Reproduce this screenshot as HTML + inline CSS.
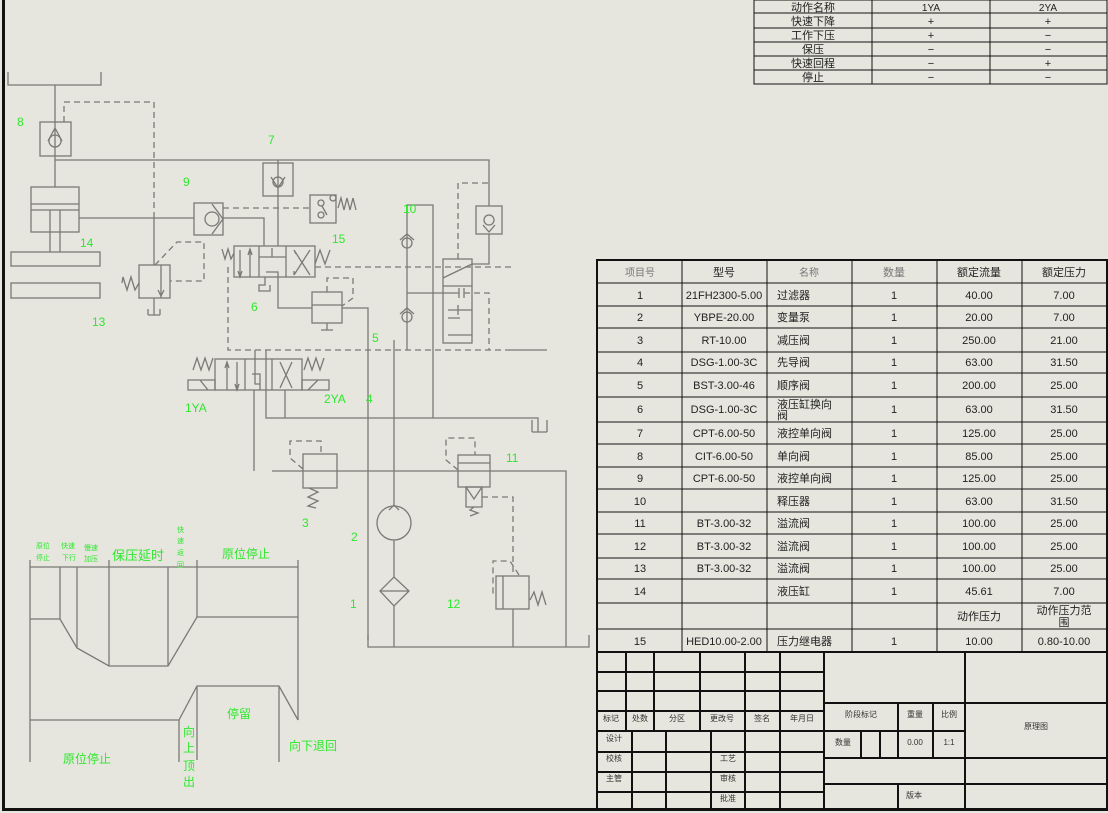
<!DOCTYPE html>
<html><head><meta charset="utf-8"><style>
html,body{margin:0;padding:0;background:#e6e6de;}
svg{display:block;font-family:"Liberation Sans","Noto Sans CJK SC",sans-serif;}
.l{stroke:#7a7a76;stroke-width:1.3;fill:none}
.d{stroke:#7a7a76;stroke-width:1.3;fill:none;stroke-dasharray:6,4}
.g{fill:#2ee82e;font-size:12px}
.t{stroke:#111;stroke-width:1;fill:none}
.tb{stroke:#111;stroke-width:2;fill:none}
.tx{font-size:11px;fill:#222;text-anchor:middle}
.sx{font-size:8px;fill:#333;text-anchor:middle}
</style></head><body>
<svg width="1108" height="813" viewBox="0 0 1108 813" xmlns="http://www.w3.org/2000/svg">
<rect width="1108" height="813" fill="#e6e6de"/>
<rect x="2" y="0" width="3" height="811" fill="#111"/>
<rect x="2" y="808" width="1106" height="3" fill="#111"/>

<!-- top table -->
<g>
<rect x="754" y="0" width="353" height="84" class="t"/>
<path class="t" d="M872 0V84M990 0V84M754 13H1107M754 28H1107M754 42H1107M754 56H1107M754 70H1107"/>
<g class="tx">
<text x="813" y="11">动作名称</text><text x="931" y="11" font-size="10">1YA</text><text x="1048" y="11" font-size="10">2YA</text>
<text x="813" y="25">快速下降</text><text x="931" y="25">+</text><text x="1048" y="25">+</text>
<text x="813" y="39">工作下压</text><text x="931" y="39">+</text><text x="1048" y="39">−</text>
<text x="813" y="53">保压</text><text x="931" y="53">−</text><text x="1048" y="53">−</text>
<text x="813" y="67">快速回程</text><text x="931" y="67">−</text><text x="1048" y="67">+</text>
<text x="813" y="81">停止</text><text x="931" y="81">−</text><text x="1048" y="81">−</text>
</g></g>

<!-- hydraulic diagram -->
<g>
<path class="l" d="M8 72V85H101V72M55 85V122"/>
<rect class="l" x="40" y="122" width="31" height="34"/>
<circle class="l" cx="55" cy="141" r="6"/><path class="l" d="M48 141L55 128L62 141M55 122V156"/>
<path class="l" d="M55 156V187M55 160H489V206"/>
<path class="d" d="M64 122V102H154V218"/>
<rect class="l" x="31" y="187" width="48" height="45"/>
<path class="l" d="M31 204H79M31 210H79M50 210V252M60 210V252M79 218H194"/>
<rect class="l" x="11" y="252" width="89" height="14"/>
<rect class="l" x="11" y="283" width="89" height="15"/>
<path class="l" d="M154 218V265"/>
<rect class="l" x="139" y="265" width="31" height="33"/>
<path class="l" d="M161 265V298M158 290L161 296L164 290"/>
<path class="l" d="M139 283L135 290L131 277L127 290L123 277L122 283"/>
<path class="l" d="M154 298V315M148 315H160M148 309V315M160 309V315"/>
<path class="d" d="M155 265L177 242H204V281H170"/>
<rect class="l" x="194" y="203" width="29" height="32"/>
<circle class="l" cx="212" cy="219" r="7"/><path class="l" d="M212 204L223 219L212 234"/>
<path class="l" d="M223 218H264V246"/>
<path class="d" d="M223 208H310"/>
<rect class="l" x="310" y="195" width="26" height="28"/>
<circle class="l" cx="321" cy="203" r="3"/><circle class="l" cx="333" cy="198" r="3"/><circle class="l" cx="321" cy="215" r="3"/>
<path class="l" d="M322 206L327 215M338 208L341 198L344 210L347 198L350 210L353 198L356 210"/>
<rect class="l" x="263" y="163" width="30" height="33"/>
<circle class="l" cx="278" cy="182" r="5"/><path class="l" d="M271 177L278 188L285 177M278 160V246"/>
<rect class="l" x="234" y="246" width="81" height="31"/>
<path class="l" d="M259 246V277M286 246V277M250 250V277M240 250V277M252 255L250 249L248 255M238 271L240 277L242 271"/>
<path class="l" d="M259 257H286M272 248V257M294 250L310 275M310 250L294 275M296 254L294 250M294 271L294 275"/>
<path class="l" d="M222 249L225 259L228 249L231 259L234 253M315 264L320 250L325 264L330 250"/>
<path class="l" d="M265 277V285H259V291H270V285M266 272H278V308H312"/>
<path class="d" d="M315 267H511M228 267V350H510"/>
<rect class="l" x="312" y="292" width="30" height="31"/>
<path class="l" d="M312 305H342M342 308H368V640M327 323V330H321M327 330H333"/>
<path class="d" d="M327 292V278H353V298L342 306"/>
<path class="l" d="M407 350V205H433V418"/>
<circle class="l" cx="407" cy="243" r="5"/><path class="l" d="M400 240L407 234L414 240"/>
<circle class="l" cx="407" cy="317" r="5"/><path class="l" d="M400 314L407 308L414 314"/>
<path class="l" d="M407 293H459M459 288V298M464 288V298"/>
<rect class="l" x="443" y="259" width="29" height="84"/>
<path class="l" d="M443 286H472M443 278L472 264M448 310H472M458 305V315M448 318H460M448 335H472"/>
<path class="d" d="M464 293H489V350M458 259V183H489"/>
<rect class="l" x="476" y="206" width="26" height="28"/>
<circle class="l" cx="489" cy="220" r="5"/><path class="l" d="M483 225L489 232L495 225M489 234V264H472"/>
<path class="l" d="M510 350H547"/>
<rect class="l" x="215" y="359" width="87" height="31"/>
<path class="l" d="M245 359V390M272 359V390M227 362V390M237 362V390M225 368L227 362L229 368M235 384L237 390L239 384M252 374H260V390M280 362L292 388M292 362L280 388"/>
<path class="l" d="M188 380H215V390H188ZM302 380H329V390H302ZM200 380L208 390M308 390L318 380M193 370L197 358L201 370L205 358L209 370L213 358M304 370L308 358L312 370L316 358L320 370L324 358"/>
<path class="l" d="M255 350V384H260M266 350V418H538V432M532 432H547M532 420V432M547 420V432"/>
<path class="l" d="M254 390V471M285 390V418"/>
<path class="l" d="M394 340V506M272 471H566V647"/>
<circle class="l" cx="394" cy="523" r="17"/><path class="l" d="M389 510L394 505L399 510"/>
<path class="l" d="M394 540V577M394 606V647M380 591L394 577L409 591L394 606Z M380 591H409"/>
<path class="l" d="M368 635V647H589V635"/>
<rect class="l" x="303" y="454" width="34" height="34"/>
<path class="l" d="M309 488L318 492L308 497L318 501L308 506L316 508"/>
<path class="d" d="M303 469L290 458V441H321V454"/>
<rect class="l" x="458" y="455" width="32" height="32"/><path class="l" d="M458 463H490"/>
<rect class="l" x="466" y="487" width="16" height="20"/><path class="l" d="M466 487L474 499L482 487M474 507L470 510L478 513L470 516"/>
<path class="d" d="M458 470L446 460V438H475V455M482 497H513V575M519 575L510 561H493V593H496"/>
<rect class="l" x="496" y="576" width="33" height="33"/><path class="l" d="M503 576V609M513 609V647M530 600L534 592L538 605L542 592L546 605"/>
</g>

<g class="g">
<text x="17" y="126">8</text><text x="268" y="144">7</text><text x="183" y="186">9</text>
<text x="403" y="213">10</text><text x="80" y="247">14</text><text x="332" y="243">15</text>
<text x="251" y="311">6</text><text x="92" y="326">13</text><text x="372" y="342">5</text>
<text x="185" y="412">1YA</text><text x="324" y="403">2YA</text><text x="366" y="403">4</text>
<text x="506" y="462">11</text><text x="302" y="527">3</text><text x="351" y="541">2</text>
<text x="350" y="608">1</text><text x="447" y="608">12</text>
</g>

<g>
<path class="l" d="M30 567H298M30 560V762M60 567V619M77 567V648M109 560V666M168 567V666M197 560V617M298 560V720"/>
<path class="l" d="M30 619H60L77 648L109 666H168L197 617H298"/>
<path class="l" d="M30 720H179L197 686H279L298 720M179 720V762M197 686V760M279 686V762"/>
<g fill="#2ee82e">
<text x="36" y="548" font-size="7">原位</text><text x="36" y="560" font-size="7">停止</text>
<text x="61" y="548" font-size="7">快速</text><text x="62" y="560" font-size="7">下行</text>
<text x="84" y="550" font-size="7">慢速</text><text x="84" y="561" font-size="7">加压</text>
<text x="112" y="560" font-size="13">保压延时</text>
<text x="177" y="532" font-size="7">快</text><text x="177" y="543" font-size="7">速</text><text x="177" y="555" font-size="7">返</text><text x="177" y="567" font-size="7">回</text>
<text x="222" y="558" font-size="12">原位停止</text>
<text x="227" y="718" font-size="12">停留</text>
<text x="63" y="763" font-size="12">原位停止</text>
<text x="183" y="736" font-size="12">向</text><text x="183" y="752" font-size="12">上</text><text x="183" y="770" font-size="12">顶</text><text x="183" y="786" font-size="12">出</text>
<text x="289" y="750" font-size="12">向下退回</text>
</g></g>

<g>
<rect x="597" y="260" width="510" height="392" class="tb"/>
<path class="t" stroke-width="1.5" d="M682 260V652M767 260V652M852 260V652M937 260V652M1022 260V652
M597 283H1107M597 306H1107M597 328H1107M597 352H1107M597 373H1107M597 397H1107M597 422H1107M597 444H1107M597 467H1107M597 489H1107M597 512H1107M597 534H1107M597 558H1107M597 579H1107M597 603H1107M597 629H1107"/>
<g class="tx">
<text x="640" y="276" font-size="10" fill="#777">项目号</text><text x="724" y="276">型号</text><text x="809" y="276" font-size="10" fill="#777">名称</text><text x="894" y="276" fill="#777">数量</text><text x="979" y="276">额定流量</text><text x="1064" y="276">额定压力</text>
</g>
<g class="tx" font-size="10.5">
<text x="640" y="299">1</text><text x="724" y="299">21FH2300-5.00</text><text x="894" y="299">1</text><text x="979" y="299">40.00</text><text x="1064" y="299">7.00</text>
<text x="640" y="321">2</text><text x="724" y="321">YBPE-20.00</text><text x="894" y="321">1</text><text x="979" y="321">20.00</text><text x="1064" y="321">7.00</text>
<text x="640" y="344">3</text><text x="724" y="344">RT-10.00</text><text x="894" y="344">1</text><text x="979" y="344">250.00</text><text x="1064" y="344">21.00</text>
<text x="640" y="366">4</text><text x="724" y="366">DSG-1.00-3C</text><text x="894" y="366">1</text><text x="979" y="366">63.00</text><text x="1064" y="366">31.50</text>
<text x="640" y="389">5</text><text x="724" y="389">BST-3.00-46</text><text x="894" y="389">1</text><text x="979" y="389">200.00</text><text x="1064" y="389">25.00</text>
<text x="640" y="413">6</text><text x="724" y="413">DSG-1.00-3C</text><text x="894" y="413">1</text><text x="979" y="413">63.00</text><text x="1064" y="413">31.50</text>
<text x="640" y="437">7</text><text x="724" y="437">CPT-6.00-50</text><text x="894" y="437">1</text><text x="979" y="437">125.00</text><text x="1064" y="437">25.00</text>
<text x="640" y="460">8</text><text x="724" y="460">CIT-6.00-50</text><text x="894" y="460">1</text><text x="979" y="460">85.00</text><text x="1064" y="460">25.00</text>
<text x="640" y="482">9</text><text x="724" y="482">CPT-6.00-50</text><text x="894" y="482">1</text><text x="979" y="482">125.00</text><text x="1064" y="482">25.00</text>
<text x="640" y="505">10</text><text x="894" y="505">1</text><text x="979" y="505">63.00</text><text x="1064" y="505">31.50</text>
<text x="640" y="527">11</text><text x="724" y="527">BT-3.00-32</text><text x="894" y="527">1</text><text x="979" y="527">100.00</text><text x="1064" y="527">25.00</text>
<text x="640" y="550">12</text><text x="724" y="550">BT-3.00-32</text><text x="894" y="550">1</text><text x="979" y="550">100.00</text><text x="1064" y="550">25.00</text>
<text x="640" y="572">13</text><text x="724" y="572">BT-3.00-32</text><text x="894" y="572">1</text><text x="979" y="572">100.00</text><text x="1064" y="572">25.00</text>
<text x="640" y="595">14</text><text x="894" y="595">1</text><text x="979" y="595">45.61</text><text x="1064" y="595">7.00</text>
<text x="640" y="645">15</text><text x="724" y="645">HED10.00-2.00</text><text x="894" y="645">1</text><text x="979" y="645">10.00</text><text x="1064" y="645">0.80-10.00</text>
</g>
<g font-size="11" fill="#222">
<text x="777" y="299">过滤器</text><text x="777" y="321">变量泵</text><text x="777" y="344">减压阀</text><text x="777" y="366">先导阀</text><text x="777" y="389">顺序阀</text>
<text x="777" y="408">液压缸换向</text><text x="777" y="419">阀</text>
<text x="777" y="437">液控单向阀</text><text x="777" y="460">单向阀</text><text x="777" y="482">液控单向阀</text><text x="777" y="505">释压器</text>
<text x="777" y="527">溢流阀</text><text x="777" y="550">溢流阀</text><text x="777" y="572">溢流阀</text><text x="777" y="595">液压缸</text><text x="777" y="645">压力继电器</text>
</g>
<g class="tx"><text x="979" y="620">动作压力</text><text x="1064" y="614">动作压力范</text><text x="1064" y="626">围</text></g>
</g>

<g>
<rect x="597" y="652" width="510" height="158" class="tb"/>
<path class="tb" d="M626 652V731M654 652V731M700 652V731M745 652V810M780 652V810M824 652V810M965 652V810
M597 672H824M597 691H824M597 711H824M597 731H824M597 752H824M597 772H824M597 792H824
M632 731V810M666 731V810M711 731V810
M824 703H1107M824 731H965M898 703V758M933 703V758M861 731V758M880 731V758M824 758H1107M824 784H1107M898 784V810"/>
<g class="sx">
<text x="611" y="721">标记</text><text x="640" y="721">处数</text><text x="677" y="721">分区</text><text x="722" y="721">更改号</text><text x="762" y="721">签名</text><text x="802" y="721">年月日</text>
<text x="861" y="717">阶段标记</text><text x="915" y="717">重量</text><text x="949" y="717">比例</text>
<text x="1036" y="729">原理图</text>
<text x="614" y="741">设计</text><text x="614" y="761">校核</text><text x="614" y="781">主管</text>
<text x="728" y="761">工艺</text><text x="728" y="781">审核</text><text x="728" y="801">批准</text>
<text x="843" y="745">数量</text><text x="915" y="745">0.00</text><text x="949" y="745">1:1</text>
<text x="914" y="798">版本</text>
</g></g>
</svg>
</body></html>
